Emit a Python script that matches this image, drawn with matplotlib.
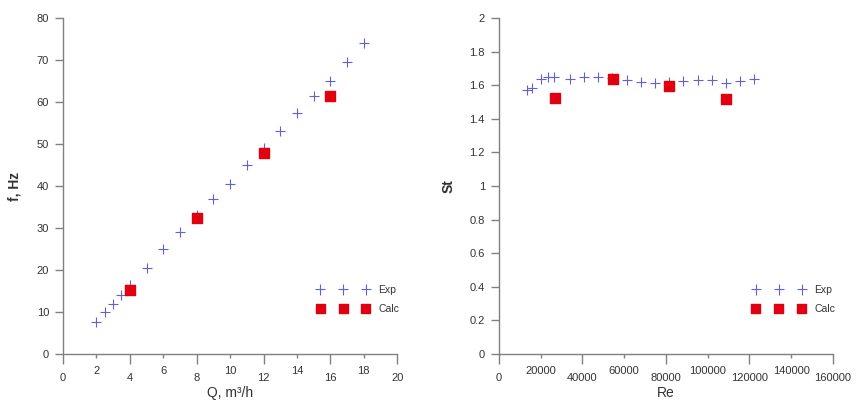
import matplotlib.pyplot as plt
from matplotlib.ticker import FixedLocator, FixedFormatter

# left panel: frequency vs flow rate
q_exp = [2, 2.5, 3, 3.5, 4, 5, 6, 7, 8, 9, 10, 11, 12, 13, 14, 15, 16, 17, 18]
f_exp = [7.7, 10, 12, 14, 16.5, 20.5, 25, 29, 33, 37, 40.5, 45, 49, 53, 57.5, 61.5, 65, 69.5, 74]
q_calc = [4, 8, 12, 16]
f_calc = [15.2, 32.5, 47.8, 61.5]

# right panel: Strouhal vs Reynolds
re_exp = [13300, 16000, 20400, 23600, 26400, 34000, 40700, 47600, 54000, 61200,
          67900, 75000, 81600, 88300, 95200, 101900, 108700, 115400, 122200]
st_exp = [1.571, 1.587, 1.637, 1.65, 1.65, 1.636, 1.648, 1.65, 1.645, 1.631,
          1.617, 1.615, 1.62, 1.625, 1.631, 1.631, 1.611, 1.625, 1.636]
re_calc = [26800, 54450, 81600, 108700]
st_calc = [1.522, 1.635, 1.597, 1.516]

plt.rcParams['font.family'] = ['Liberation Sans', 'DejaVu Sans']

grey = '#808080'
txt = '#333333'
blue = '#6060d8'
red = '#e00010'

fig = plt.figure(figsize=(8.57, 4.04), dpi=100)
ax1 = fig.add_axes([0.0735, 0.124, 0.39, 0.831])
ax2 = fig.add_axes([0.582, 0.124, 0.39, 0.831])


def style(ax, major, minor):
    for s in ['top', 'right']:
        ax.spines[s].set_visible(False)
    for s in ['left', 'bottom']:
        ax.spines[s].set_color(grey)
        ax.spines[s].set_linewidth(1.0)
    ax.xaxis.set_major_locator(FixedLocator(major))
    ax.xaxis.set_minor_locator(FixedLocator(minor))
    ax.tick_params(axis='x', which='major', length=7, width=1, color=grey,
                   labelsize=8, labelcolor=txt, pad=7)
    ax.tick_params(axis='x', which='minor', length=3, width=1, color=grey,
                   labelsize=8, labelcolor=txt, pad=6)
    ax.tick_params(axis='y', length=6, width=1, color=grey,
                   labelsize=8, labelcolor=txt, pad=4)


def legend(ax):
    ax.legend(loc='upper left', bbox_to_anchor=(0.76, 0.205), numpoints=3,
              scatterpoints=3, scatteryoffsets=[0.5], frameon=False,
              fontsize=7.5, borderpad=0, borderaxespad=0, handlelength=5.0,
              handletextpad=0.9, labelspacing=0.85, labelcolor=txt)


ax1.scatter(q_exp, f_exp, marker='+', s=55, c=blue, linewidths=0.8, label='Exp')
ax1.scatter(q_calc, f_calc, marker='s', s=42, c=red, label='Calc')
ax1.set_xlim(0, 20)
ax1.set_ylim(0, 80)
style(ax1, [0, 4, 8, 12, 16, 20], [2, 6, 10, 14, 18])
ax1.xaxis.set_minor_formatter(FixedFormatter(['2', '6', '10', '14', '18']))
ax1.set_yticks(range(0, 81, 10))
ax1.set_xlabel('Q, m³/h', fontsize=10, color=txt, labelpad=2)
ax1.set_ylabel('f, Hz', fontsize=10, color=txt, fontweight='bold', labelpad=11)
legend(ax1)

ax2.scatter(re_exp, st_exp, marker='+', s=55, c=blue, linewidths=0.8, label='Exp')
ax2.scatter(re_calc, st_calc, marker='s', s=42, c=red, label='Calc')
ax2.set_xlim(0, 160000)
ax2.set_ylim(0, 2)
style(ax2, [0, 40000, 80000, 120000, 160000], [20000, 60000, 100000, 140000])
ax2.xaxis.set_major_formatter(FixedFormatter(['0', '40000', '80000', '120000', '160000']))
ax2.xaxis.set_minor_formatter(FixedFormatter(['20000', '60000', '100000', '140000']))
ax2.set_yticks([0, 0.2, 0.4, 0.6, 0.8, 1, 1.2, 1.4, 1.6, 1.8, 2])
ax2.set_yticklabels(['0', '0.2', '0.4', '0.6', '0.8', '1', '1.2', '1.4', '1.6', '1.8', '2'])
ax2.set_xlabel('Re', fontsize=10, color=txt, labelpad=2)
ax2.set_ylabel('St', fontsize=10, color=txt, fontweight='bold', labelpad=10)
legend(ax2)

fig.savefig('out.png', dpi=100)
